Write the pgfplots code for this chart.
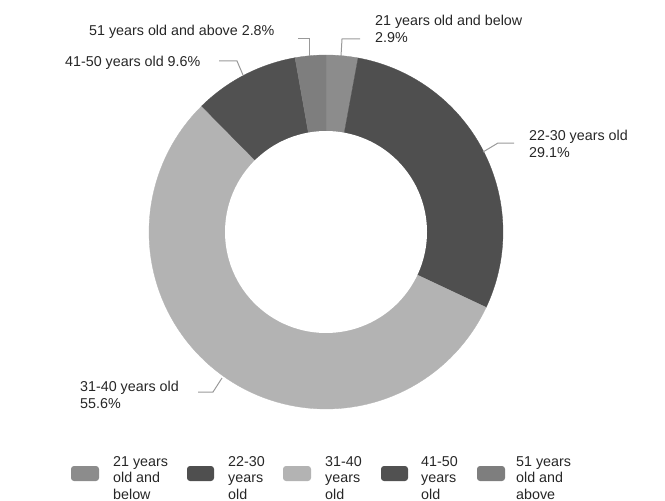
\documentclass[border=0pt]{standalone}
\usepackage{pgfplots}
\pgfplotsset{compat=1.18}
\usepackage{fontspec}
\setmainfont{Liberation Sans}

\definecolor{cA}{HTML}{8C8C8C}
\definecolor{cB}{HTML}{4F4F4F}
\definecolor{cC}{HTML}{B3B3B3}
\definecolor{cD}{HTML}{515151}
\definecolor{cE}{HTML}{7E7E7E}
\definecolor{lead}{HTML}{999999}

% shares in percent, clockwise from 12 o'clock
\def\vA{2.9}  % 21 and below
\def\vB{29.1} % 22-30
\def\vC{55.6} % 31-40
\def\vD{9.6}  % 41-50
\def\vE{2.8}  % 51 and above

\pgfmathsetmacro\aA{90}
\pgfmathsetmacro\aB{\aA-3.6*\vA}
\pgfmathsetmacro\aC{\aB-3.6*\vB}
\pgfmathsetmacro\aD{\aC-3.6*\vC}
\pgfmathsetmacro\aE{\aD-3.6*\vD}
\pgfmathsetmacro\aF{\aE-3.6*\vE}

% donut geometry in pixel units
\def\cx{326}\def\cy{232}\def\ro{177}\def\ri{101}

\newcommand\slice[3]{%
  \addplot[fill=#3, draw=#3, line width=0.3bp, domain=#2:#1, samples=90, variable=\t]
    ({\cx+\ro*cos(\t)},{\cy-\ro*sin(\t)}) -- (axis cs:\cx,\cy) -- cycle;}

\tikzset{
  lab/.style={anchor=west, align=left, inner sep=0pt, text=black!85,
    font=\fontsize{14.3bp}{16.3bp}\selectfont},
  ld/.style={draw=lead, line width=1bp},
}

\begin{document}
\begin{tikzpicture}
\begin{axis}[
  width=665bp, height=501bp, scale only axis,
  hide axis, clip=false,
  xmin=0, xmax=665, ymin=0, ymax=501, y dir=reverse,
]
\path (axis cs:0,0) rectangle (axis cs:665,501);

\slice{\aA}{\aB}{cA}
\slice{\aB}{\aC}{cB}
\slice{\aC}{\aD}{cC}
\slice{\aD}{\aE}{cD}
\slice{\aE}{\aF}{cE}
\addplot[fill=white, draw=none, domain=0:360, samples=120, variable=\t]
  ({\cx+\ri*cos(\t)},{\cy-\ri*sin(\t)}) -- cycle;

% leader lines
\draw[ld] (axis cs:298,39) -- (axis cs:309,39) -- (axis cs:309,56);
\draw[ld] (axis cs:360,39) -- (axis cs:342,39) -- (axis cs:341,56);
\draw[ld] (axis cs:219,61) -- (axis cs:237,61) -- (axis cs:243,75);
\draw[ld] (axis cs:514,143) -- (axis cs:498,143) -- (axis cs:483,152);
\draw[ld] (axis cs:198,392) -- (axis cs:213,392) -- (axis cs:222,378);

% slice labels
\node[lab] at (axis cs:89,32) {51 years old and above 2.8\%};
\node[lab] at (axis cs:375,29) {21 years old and below\\2.9\%};
\node[lab] at (axis cs:65,63) {41-50 years old 9.6\%};
\node[lab] at (axis cs:529,144) {22-30 years old\\29.1\%};
\node[lab] at (axis cs:80,395) {31-40 years old\\55.6\%};

% legend
\fill[cA, rounded corners=3bp] (axis cs:71,466) rectangle (axis cs:99,481);
\node[lab] at (axis cs:113,478) {21 years\\old and\\below};
\fill[cB, rounded corners=3bp] (axis cs:187,466) rectangle (axis cs:214,481);
\node[lab] at (axis cs:228,478) {22-30\\years\\old};
\fill[cC, rounded corners=3bp] (axis cs:283,466) rectangle (axis cs:311,481);
\node[lab] at (axis cs:325,478) {31-40\\years\\old};
\fill[cD, rounded corners=3bp] (axis cs:381,466) rectangle (axis cs:408,481);
\node[lab] at (axis cs:421,478) {41-50\\years\\old};
\fill[cE, rounded corners=3bp] (axis cs:477,466) rectangle (axis cs:505,481);
\node[lab] at (axis cs:516,478) {51 years\\old and\\above};
\end{axis}
\end{tikzpicture}
\end{document}
